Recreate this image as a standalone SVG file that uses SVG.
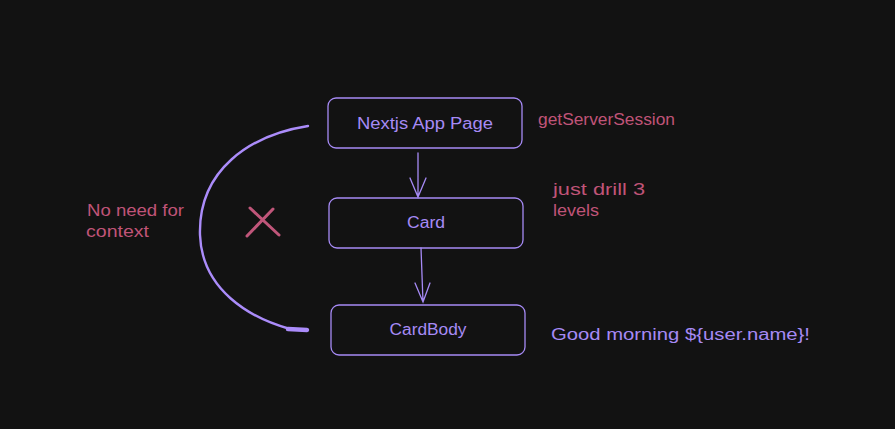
<svg xmlns="http://www.w3.org/2000/svg" width="895" height="429" viewBox="0 0 895 429">
<style>
.box{fill:none;stroke:#a68af5;stroke-width:1.3}
.lbl{font-family:"Liberation Sans",Arial,sans-serif;font-size:16px;fill:#a68af5;text-anchor:middle}
.note{font-family:"Liberation Sans",Arial,sans-serif;font-size:16px;fill:#c05478}
.noteP{font-family:"Liberation Sans",Arial,sans-serif;font-size:16px;fill:#a68af5}
.conn{fill:none;stroke:#a68af5;stroke-width:1.3;stroke-linecap:round}
</style>
<rect width="895" height="429" fill="#121212"/>
<g id="connectors">
<path class="conn" d="M418,153 L418,197 M410,178 L418,197 L426,178"/>
<path class="conn" d="M421,248 L423,302 M415,283 L423,302 L430,283"/>
<path d="M308,126 C250,135 198,170 200,235 C202,290 250,318 290,329" fill="none" stroke="#ab8cfa" stroke-width="2.4" stroke-linecap="round"/>
<path d="M288,329 L307,330" stroke="#ab8cfa" stroke-width="4.5" stroke-linecap="round"/>
</g>
<g id="node-page">
<rect class="box" x="328" y="98" width="194" height="50" rx="8"/>
<text class="lbl" x="425" y="129" textLength="136" lengthAdjust="spacingAndGlyphs">Nextjs App Page</text>
</g>
<g id="node-card">
<rect class="box" x="329" y="198" width="194" height="50" rx="8"/>
<text class="lbl" x="426" y="228" textLength="38" lengthAdjust="spacingAndGlyphs">Card</text>
</g>
<g id="node-cardbody">
<rect class="box" x="331" y="305" width="194" height="50" rx="8"/>
<text class="lbl" x="428" y="335" textLength="77" lengthAdjust="spacingAndGlyphs">CardBody</text>
</g>
<g id="note-session">
<text class="note" x="538" y="125" textLength="137" lengthAdjust="spacingAndGlyphs">getServerSession</text>
</g>
<g id="note-drill">
<text class="note" x="553" y="195" textLength="92" lengthAdjust="spacingAndGlyphs">just drill 3</text>
<text class="note" x="553" y="216" textLength="46" lengthAdjust="spacingAndGlyphs">levels</text>
</g>
<g id="note-greeting">
<text class="noteP" x="551" y="340" textLength="259" lengthAdjust="spacingAndGlyphs">Good morning ${user.name}!</text>
</g>
<g id="note-context">
<text class="note" x="87" y="216" textLength="97" lengthAdjust="spacingAndGlyphs">No need for</text>
<text class="note" x="86" y="237" textLength="63" lengthAdjust="spacingAndGlyphs">context</text>
</g>
<g id="cross">
<path d="M247,236 L273,209 M250,208 L279,235" stroke="#c0567a" stroke-width="3" stroke-linecap="round" fill="none"/>
</g>
</svg>
